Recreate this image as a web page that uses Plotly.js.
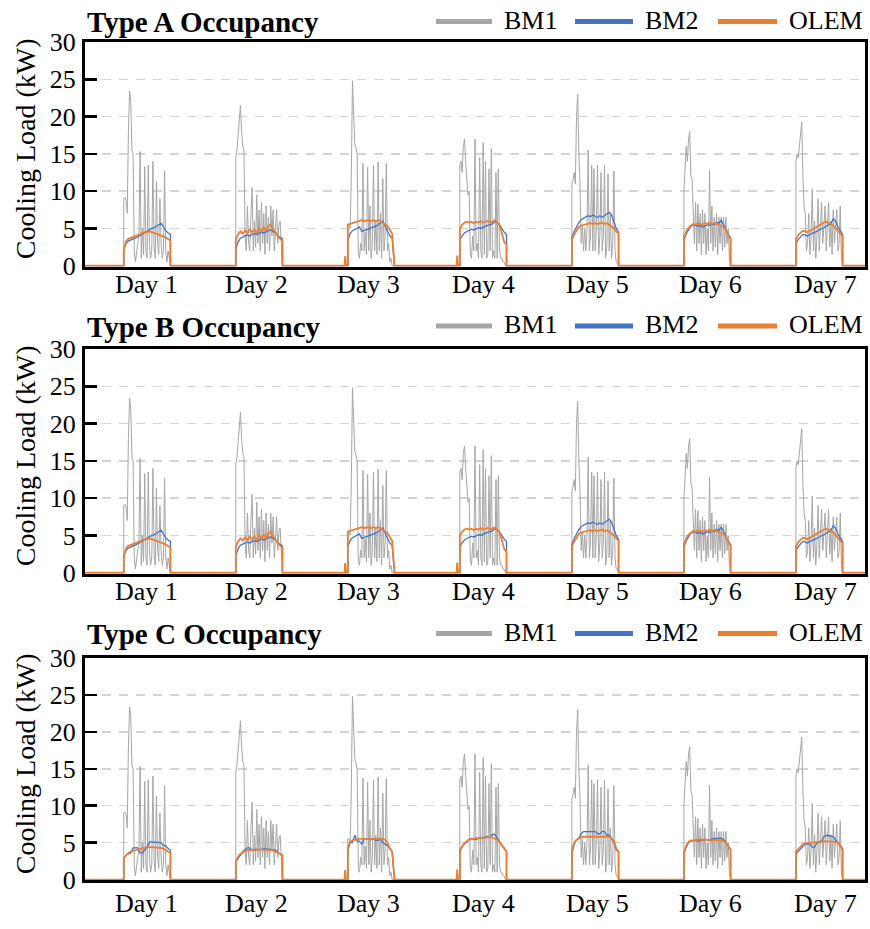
<!DOCTYPE html>
<html><head><meta charset="utf-8">
<script src="https://cdn.plot.ly/plotly-3.0.1.min.js"></script>
<style>body{margin:0;background:#fff}#chart{width:870px;height:929px}</style>
</head><body><div id="chart"></div>
<script>
// ---------------- data ----------------
const dayLabels = ['Day 1','Day 2','Day 3','Day 4','Day 5','Day 6','Day 7'];
const seriesNames = ['BM1','BM2','OLEM'];
const panelTitles = ['Type A Occupancy','Type B Occupancy','Type C Occupancy'];
const yTickValues = [0,5,10,15,20,25,30];

// BM1 cooling load (kW), 15-min readings over the occupied hours of each day
const bm1 = [
 [9,9.2,8.8,7,18,23.4,22,15.5,15,2,0.5,2,3,4,15.3,1,5,1.5,13.3,2,1,13.5,3,1,2,14,2.5,1,11.3,3,1.5,9,3,1,2,12.7,2,0.5,2,1,0],
 [14.5,15.5,18,19,21.5,18,16,15.5,4,2,8,3,2,7,10.5,2,6,2.5,9.5,3,7.5,2,8.5,3,7,1.5,8,3,6.5,2,8,4,7.5,2,6,7.5,3,5.5,6,3.5,0],
 [5.5,5.5,5,12,24.8,20,16.3,15.8,15,1.5,1,3,2,13.7,2,4.5,1.5,13.2,2,8,1,3,13.5,2,6,1.5,13.9,2,7,1,11.7,2,4,13.7,2,3,0.5,1,0,0,0],
 [13.5,14,12.5,16,17,14,11,9.5,10,1.5,1,4,2,17,2,3,1,14.5,2,1,16.5,1.5,14,1,1.5,13,2,15.7,1,2,1,12.5,1,13,2,1,1,0.5,0.5,0,0],
 [11,11.5,12.5,11,20,23,15,11,3,5.5,2,5,2,5,15.5,2,4,13.5,2,13,2,5,13.5,1.5,4,12.5,2,4,13.5,1,2.5,12.3,2,7,1,3,12.7,2,0.5,0.5,0],
 [10,13,16,14,17,18,12,11.5,8,3,8.5,2,8.3,3,7,1.5,7.5,3,7,1.5,5,2,12.8,3,8,2,6.5,2.5,7,1.5,6.5,3,6.5,2,6.5,2.5,6.5,3,5,1,0],
 [14,15,14.5,16,18,19.3,12,8,7,2,3,7,1.5,4,10.3,2,6,1,4,9,2,6,8.5,3,5,8,2,5,8.5,2.5,6,1.5,7.5,3,6,7.5,2,3,8,1,0]
];
// small readings just before occupancy starts (per day)
const bm1Early  = [0,0,1.2,1.4,0,0,0];
const olemEarly = [0,0,1.3,1.3,0,0,0];

// BM2 / OLEM, 30-min readings, Type A and Type B occupancy
const bm2AB = [
 [2.4,3.0,3.3,3.5,3.6,3.7,3.9,4.1,4.3,4.5,4.7,4.9,5.0,5.1,5.3,5.5,5.7,5.2,4.7,4.4,4.2],
 [2.3,3.2,3.7,3.9,4.0,4.1,4.0,4.2,4.3,4.2,4.4,4.5,4.4,4.6,4.7,4.8,4.6,4.4,4.0,3.8,3.6],
 [3.5,4.3,4.7,4.9,5.1,5.2,4.6,4.7,4.9,5.0,5.1,5.2,5.3,5.5,5.7,6.0,5.3,4.6,4.0,3.7,0],
 [3.5,4.0,4.4,4.6,4.8,4.9,4.8,5.0,5.1,5.0,5.2,5.3,5.4,5.5,5.6,5.9,5.8,5.5,5.0,4.5,4.2],
 [3.8,4.6,5.3,5.8,6.2,6.4,6.6,6.7,6.6,6.8,6.6,6.5,6.7,6.5,6.7,7.0,7.2,6.8,6.0,5.0,4.5],
 [3.4,4.3,4.9,5.3,5.5,5.4,5.3,5.4,5.2,5.3,5.5,5.4,5.6,5.5,5.8,5.7,6.1,5.5,4.8,4.2,3.8],
 [3.0,3.5,3.9,4.2,4.1,4.0,4.2,4.3,4.5,4.6,4.8,4.9,5.1,5.3,5.5,5.7,6.3,6.0,5.2,4.6,4.2]
];
const olemAB = [
 [2.2,3.3,3.6,3.7,3.8,3.9,4.0,4.2,4.4,4.5,4.6,4.6,4.5,4.4,4.3,4.2,4.0,3.9,3.8,3.6,3.4],
 [3.5,4.2,4.6,4.3,4.7,4.4,4.9,4.5,4.8,4.4,5.0,4.6,5.1,4.7,5.3,5.5,4.9,4.5,4.0,3.6,3.4],
 [5.5,5.6,5.8,5.9,6.0,6.0,6.1,6.0,6.1,6.1,6.0,6.1,6.0,6.1,6.0,5.8,5.5,5.3,4.8,4.3,0],
 [5.0,5.5,5.8,5.9,5.8,5.9,5.7,5.9,5.8,6.0,5.8,5.9,6.0,5.8,6.0,6.1,5.8,5.4,4.4,3.2,2.8],
 [3.5,4.2,4.8,5.2,5.4,5.5,5.6,5.6,5.7,5.6,5.7,5.6,5.7,5.8,5.6,5.7,5.5,5.3,5.0,4.6,4.3],
 [3.8,4.6,5.1,5.4,5.6,5.5,5.7,5.6,5.5,5.7,5.6,5.8,5.6,5.7,5.6,5.5,5.4,5.2,4.8,4.2,3.6],
 [3.5,4.1,4.4,4.7,4.6,4.5,4.7,4.9,5.0,5.2,5.4,5.6,5.8,5.9,5.8,5.6,5.4,5.1,4.7,4.3,4.0]
];
// BM2 / OLEM, 30-min readings, Type C occupancy
const bm2C = [
 [2.8,3.3,3.5,3.6,4.3,4.3,4.3,3.6,3.6,4.0,4.4,5.1,5.1,5.1,5.1,5.0,5.0,4.6,4.6,4.2,4.0],
 [2.4,2.8,3.3,3.8,4.1,4.3,4.3,4.0,4.0,4.0,4.1,4.1,4.2,4.2,4.1,4.1,4.0,4.0,3.7,3.5,3.2],
 [4.0,5.0,5.0,6.0,5.2,5.2,4.8,5.5,5.5,5.5,5.5,5.5,5.3,5.3,5.5,5.0,4.8,4.6,4.2,3.8,0],
 [3.8,4.4,5.0,5.0,5.5,5.5,5.5,5.4,5.6,5.6,5.6,5.8,5.8,5.8,6.1,6.1,5.6,5.2,4.7,4.2,3.8],
 [3.5,4.8,5.4,5.6,6.2,6.5,6.5,6.5,6.5,6.5,6.5,6.2,6.2,6.5,6.5,6.0,6.0,5.5,5.0,4.0,3.8],
 [3.7,4.4,5.0,5.2,5.3,5.3,5.2,5.3,5.3,5.4,5.4,5.3,5.5,5.5,5.5,5.6,5.6,5.4,5.1,4.6,4.0],
 [3.5,3.8,4.2,4.4,4.8,4.8,4.8,4.4,4.4,5.0,5.0,5.2,5.8,6.0,6.0,5.9,5.8,5.4,5.0,4.5,4.2]
];
const olemC = [
 [2.9,3.3,3.6,3.8,3.9,4.0,4.1,4.2,4.3,4.3,4.4,4.4,4.4,4.4,4.4,4.3,4.3,4.2,4.0,3.8,3.6],
 [2.4,3.1,3.5,3.7,3.9,4.0,4.0,4.1,4.1,4.1,4.1,4.1,4.1,4.1,4.0,4.0,3.9,3.8,3.7,3.5,3.3],
 [4.4,5.1,5.3,5.4,5.4,5.5,5.5,5.5,5.5,5.5,5.6,5.5,5.5,5.6,5.5,5.5,5.4,5.0,4.2,3.8,0],
 [4.0,4.5,4.9,5.2,5.4,5.5,5.5,5.6,5.6,5.6,5.7,5.7,5.7,5.8,5.7,5.6,5.4,5.1,4.7,4.2,3.8],
 [4.0,5.0,5.4,5.6,5.7,5.8,5.8,5.9,5.9,5.9,5.9,5.9,5.9,5.9,5.8,5.8,5.8,5.6,5.2,4.2,3.8],
 [3.5,4.6,5.1,5.3,5.3,5.4,5.4,5.4,5.4,5.4,5.4,5.4,5.4,5.3,5.4,5.4,5.3,5.2,5.0,4.5,4.0],
 [3.8,4.1,4.4,4.8,4.9,5.0,5.0,5.0,5.0,5.0,5.1,5.2,5.2,5.2,5.2,5.2,5.2,5.1,5.0,4.6,4.0]
];

// ---------------- time axis (hours) ----------------
const START_H = 8.3;      // occupancy start hour
const EARLY_H = 7.75;     // time of early readings
const X_MAX = 167.1;
const dayTickHours = [13.07, 36.75, 60.75, 85.4, 109.8, 133.9, 158.6];

function buildSeries(days, step, early) {
  const x = [0], y = [0];
  days.forEach((vals, d) => {
    const base = 24 * d;
    if (early && early[d] > 0) {
      x.push(base + EARLY_H - 0.15, base + EARLY_H, base + EARLY_H + 0.15);
      y.push(0, early[d], 0);
    }
    x.push(base + START_H); y.push(0);
    vals.forEach((v, i) => { x.push(base + START_H + step * i); y.push(v); });
    x.push(base + START_H + step * (vals.length - 1)); y.push(0);
  });
  x.push(X_MAX); y.push(0);
  return {x, y};
}

const colors = {BM1: '#a6a6a6', BM2: '#4472c4', OLEM: '#ed7d31'};
const widths = {BM1: 1, BM2: 1.3, OLEM: 1.8};
const panelData = [
  {bm2: bm2AB, olem: olemAB},
  {bm2: bm2AB, olem: olemAB},
  {bm2: bm2C,  olem: olemC}
];

const traces = [];
panelData.forEach((p, k) => {
  const xa = k === 0 ? 'x' : 'x' + (k + 1);
  const ya = k === 0 ? 'y' : 'y' + (k + 1);
  const sets = [
    ['BM1', buildSeries(bm1, 0.25, bm1Early)],
    ['BM2', buildSeries(p.bm2, 0.5, null)],
    ['OLEM', buildSeries(p.olem, 0.5, olemEarly)]
  ];
  sets.forEach(([name, s]) => {
    traces.push({x: s.x, y: s.y, type: 'scatter', mode: 'lines', name: name,
      xaxis: xa, yaxis: ya, showlegend: false, hoverinfo: 'skip',
      line: {color: colors[name], width: widths[name]}});
  });
});

// ---------------- layout ----------------
const W = 870, H = 929, ML = 85, MR = 5;
const plotW = W - ML - MR;
const px = v => (v - ML) / plotW;     // pixel x -> paper
const py = v => 1 - v / H;            // pixel y -> paper
const panelsPx = [[42, 266.5], [349, 573.5], [658, 880.3]];
const titleY = [22, 326.5, 634];
const dayLabelY = [284.5, 591.5, 903];
const serif = 'Liberation Serif, Times New Roman, serif';

const layout = {
  width: W, height: H,
  margin: {l: ML, r: MR, t: 0, b: 0},
  paper_bgcolor: '#fff', plot_bgcolor: '#fff',
  showlegend: false,
  font: {family: serif, size: 26, color: '#000'},
  annotations: [], shapes: []
};

panelsPx.forEach((pp, k) => {
  const sfx = k === 0 ? '' : String(k + 1);
  layout['xaxis' + sfx] = {
    domain: [0, 1], anchor: 'y' + sfx, range: [0, X_MAX],
    showticklabels: false, ticks: '', showgrid: false, zeroline: false,
    showline: true, mirror: true, linewidth: 3, linecolor: '#000', fixedrange: true
  };
  layout['yaxis' + sfx] = {
    domain: [py(pp[1]), py(pp[0])], anchor: 'x' + sfx, range: [-0.1, 30],
    tickmode: 'array', tickvals: yTickValues,
    ticks: 'inside', ticklen: 12, tickwidth: 2.5, tickcolor: '#000',
    showgrid: true, gridcolor: '#d4d4d4', gridwidth: 1.5, griddash: '9px,8px',
    zeroline: false, showline: true, mirror: true, linewidth: 3, linecolor: '#000',
    ticklabelstandoff: 1,
    tickfont: {family: serif, size: 26, color: '#000'}, fixedrange: true
  };
  // day labels on the time axis
  dayLabels.forEach((lab, i) => {
    layout.annotations.push({
      text: lab, xref: 'x' + sfx, yref: 'paper', x: dayTickHours[i], y: py(dayLabelY[k]),
      xanchor: 'center', yanchor: 'middle', showarrow: false,
      font: {family: serif, size: 26, color: '#000'}
    });
  });
  // panel title
  layout.annotations.push({
    text: '<b>' + panelTitles[k] + '</b>', xref: 'paper', yref: 'paper',
    x: px(85), y: py(titleY[k]), xanchor: 'left', yanchor: 'middle', showarrow: false,
    font: {family: serif, size: 29, color: '#000'}
  });
  // y axis title
  layout.annotations.push({
    text: 'Cooling Load (kW)', xref: 'paper', yref: 'paper', textangle: -90,
    x: px(25), y: py((pp[0] + pp[1]) / 2 - 5), xanchor: 'center', yanchor: 'middle', showarrow: false,
    font: {family: serif, size: 28, color: '#000'}
  });
  // legend
  const legItems = [[436, 492, 502], [575, 633, 643], [718, 777, 787]];
  seriesNames.forEach((nm, i) => {
    const li = legItems[i];
    layout.shapes.push({type: 'line', xref: 'paper', yref: 'paper',
      x0: px(li[0]), x1: px(li[1]), y0: py(titleY[k] - 0.5), y1: py(titleY[k] - 0.5),
      line: {color: colors[nm], width: 5}});
    layout.annotations.push({text: nm, xref: 'paper', yref: 'paper',
      x: px(li[2]), y: py(titleY[k] - 2), xanchor: 'left', yanchor: 'middle', showarrow: false,
      font: {family: serif, size: 26, color: '#000'}});
  });
});

Plotly.newPlot('chart', traces, layout, {staticPlot: true, displayModeBar: false});
</script>
</body></html>
